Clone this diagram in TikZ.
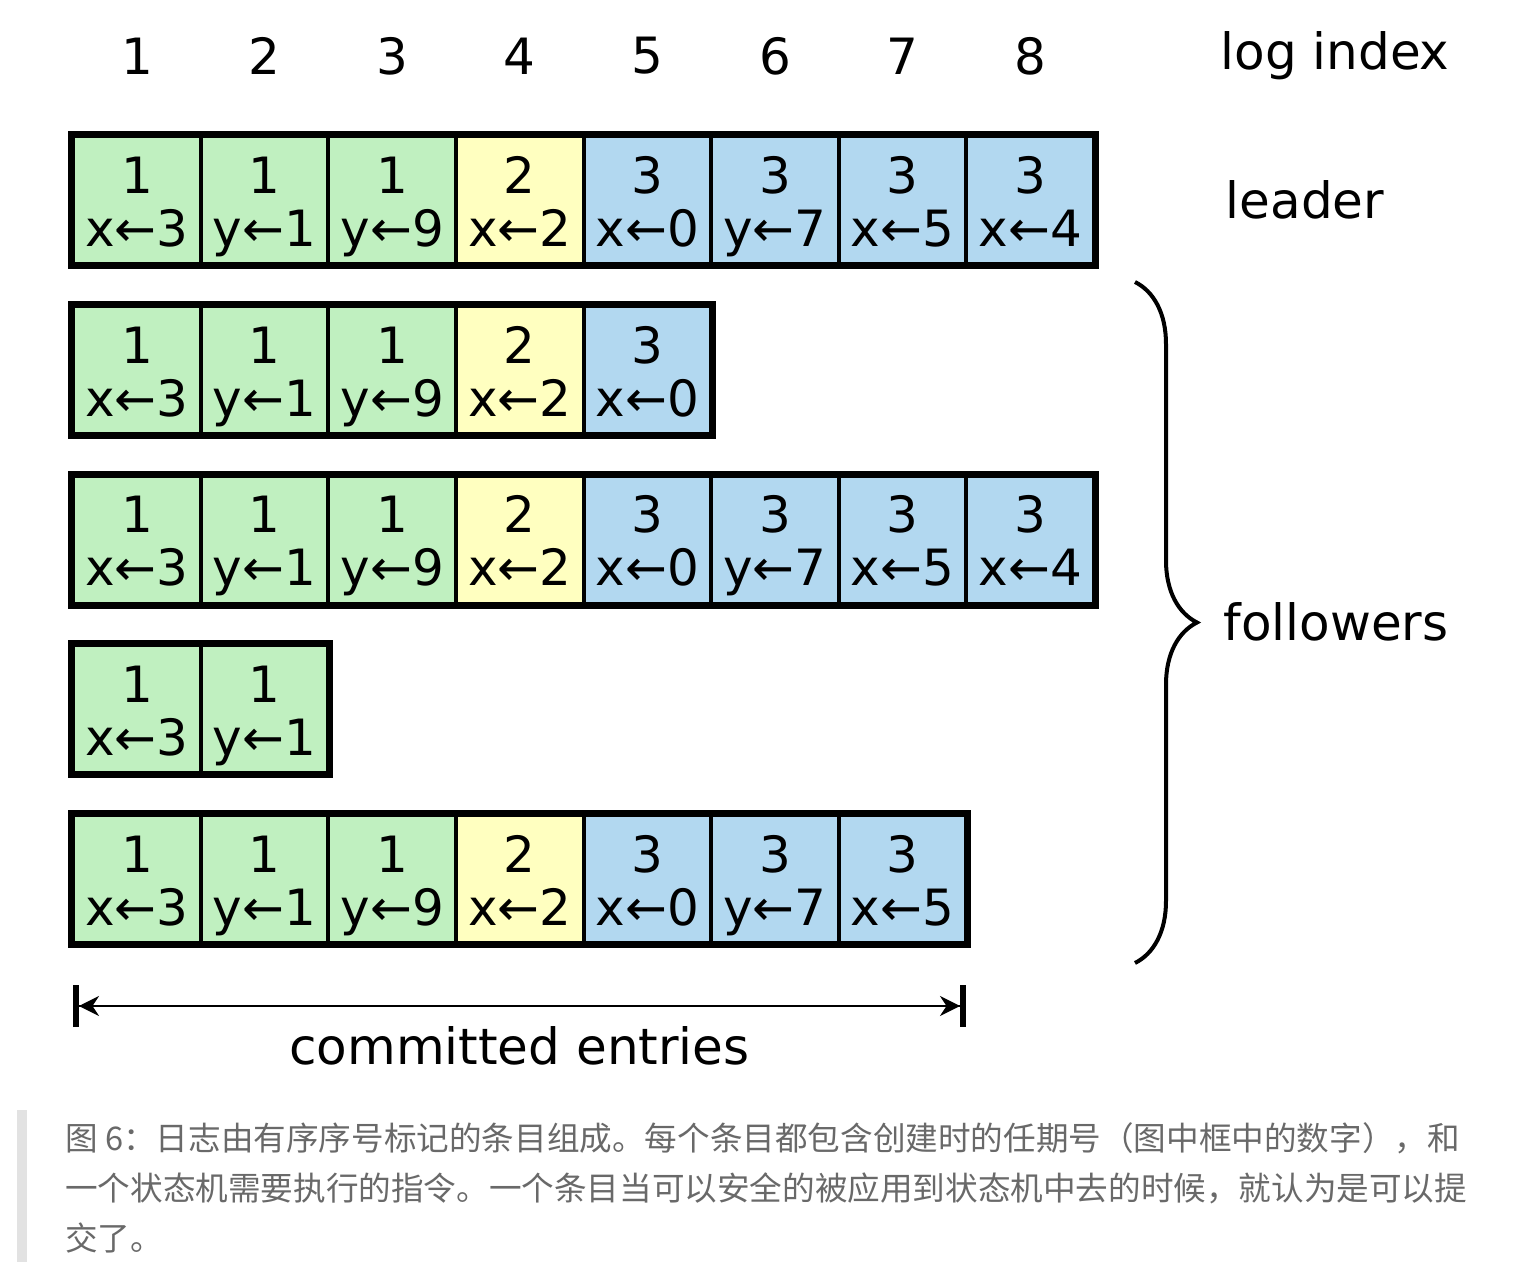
\documentclass[tikz,border=0pt]{standalone}
\usepackage{fontspec}
\setmainfont{DejaVu Sans}
\newfontfamily\cjk{Noto Sans CJK SC}
\usetikzlibrary{arrows.meta,decorations.pathreplacing}

\definecolor{term1}{RGB}{192,240,192}
\definecolor{term2}{RGB}{255,255,192}
\definecolor{term3}{RGB}{178,216,240}
\definecolor{capgray}{RGB}{105,105,105}
\definecolor{capbar}{RGB}{226,226,226}

\tikzset{
  entry/.style={draw, line width=2pt, minimum width=63.8pt, minimum height=64pt,
    inner sep=0pt, align=center, font=\fontsize{25}{26.5}\selectfont},
  tag/.style={inner sep=0pt, font=\fontsize{25}{30}\selectfont},
  capline/.style={anchor=west, inner sep=0pt, text=capgray,
    font=\cjk\fontsize{16.3}{20}\selectfont}
}

\begin{document}
\begin{tikzpicture}[x=0.5pt,y=-0.5pt]
  \path[fill=white, use as bounding box] (0,0) rectangle (1538,1272);

  % Log index numbers
  \foreach \i in {1,...,8}
    \node[tag] (idx\i) at ({137+127.6*(\i-1)},56) {\i};
  \node[tag] (logindex) at (1335,56) {log index};

  % Log entries, one row per server
  \foreach \r/\n in {1/8,2/5,3/8,4/2,5/7} {
    \foreach \i/\term/\cmd in {1/1/x←3,2/1/y←1,3/1/y←9,4/2/x←2,5/3/x←0,6/3/y←7,7/3/x←5,8/3/x←4} {
      \ifnum\i>\n\else
        \node[entry, fill=term\term] (e\r-\i) at ({137+127.6*(\i-1)},{200+169.8*(\r-1)}) {\rule{0pt}{25pt}\term\\\cmd\vphantom{y}};
      \fi
    }
    \draw[line width=3pt] (e\r-1.north west) rectangle (e\r-\n.south east);
  }

  % Leader and followers
  \node[tag] (leader) at (1305,200) {leader};
  \coordinate (bracetop) at (1135,282);
  \coordinate (bracebot) at (1135,963);
  \draw[line width=2pt, decorate, decoration={brace, amplitude=31pt}] (bracetop) -- (bracebot);
  \node[tag] (followers) at (1336,622) {followers};

  % Committed entries
  \coordinate (cstart) at (73,1006);
  \coordinate (cend) at (966,1006);
  \draw[line width=1.2pt, {Bar[width=21pt,line width=3pt]Stealth[length=10pt,width=10pt]}-{Stealth[length=10pt,width=10pt]Bar[width=21pt,line width=3pt]}]
    (cstart) -- (cend) node[tag, midway, yshift=-20pt] (committed) {committed entries};

  % Caption
  \fill[capbar] (17,1110) rectangle (27,1262);
  \node[capline] (cap1) at (65,1138) {图 6：日志由有序序号标记的条目组成。每个条目都包含创建时的任期号（图中框中的数字），和};
  \node[capline] (cap2) at (65,1188) {一个状态机需要执行的指令。一个条目当可以安全的被应用到状态机中去的时候，就认为是可以提};
  \node[capline] (cap3) at (65,1238) {交了。};
\end{tikzpicture}
\end{document}
